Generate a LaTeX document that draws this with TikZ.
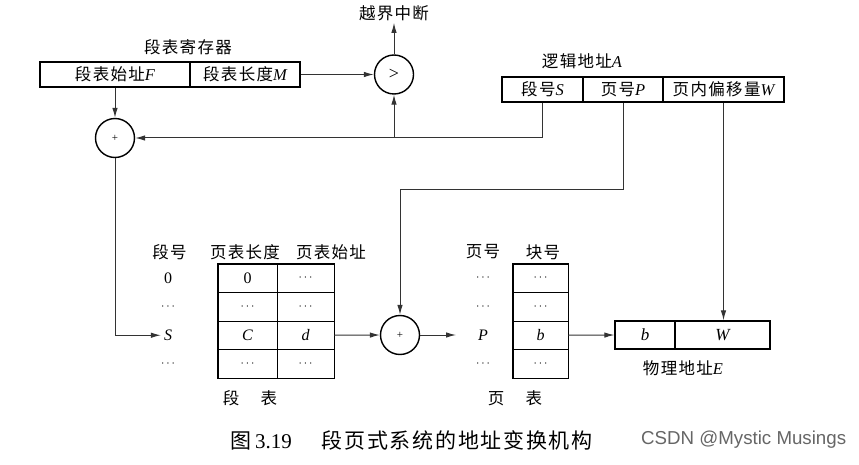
\documentclass[tikz,border=0pt]{standalone}
\usepackage{fontspec}
\setmainfont{Liberation Serif}
\newfontfamily\cjk[LetterSpace=8]{Noto Sans CJK SC}
\newfontfamily\wmfont{Liberation Sans}
\usetikzlibrary{arrows.meta,calc}
\newcommand\ital[1]{{\rmfamily\itshape #1}}
\newcommand\lblfont{\cjk\fontsize{16.5}{20}\selectfont}
\newcommand\dotsc{{\fontsize{12}{14}\selectfont\ensuremath{\cdots}}}
\tikzset{
  lbl/.style={font=\lblfont, inner sep=2pt},
  regc/.style={draw, line width=1.4pt, minimum height=25pt, inner sep=0pt, font=\lblfont},
  cell/.style={draw, line width=0.8pt, minimum height=28.5pt, inner sep=0pt, font=\rmfamily\fontsize{16}{18}\selectfont},
  tframe/.style={draw, line width=1.6pt},
  circ/.style={circle, draw, line width=1.4pt, minimum size=39pt, inner sep=0pt},
  rowl/.style={font=\rmfamily\fontsize{16}{18}\selectfont, inner sep=3pt},
  conn/.style={line width=1pt, draw=black!80},
  arr/.style={conn, -{Latex[length=10pt,width=5.5pt]}},
}
\begin{document}
\begin{tikzpicture}[x=1pt,y=-1pt]
\useasboundingbox (0,0) rectangle (859,465);
\fill[white] (0,0) rectangle (859,465);

% segment table register
\node[lbl] (segT) at (188,47) {段表寄存器};
\node[regc, minimum width=150pt] (segF) at (115,74.5) {段表始址\ital{F}};
\node[regc, minimum width=110pt] (segM) at (245,74.5) {段表长度\ital{M}};

% adders and comparator
\node[circ] (add1) at (115,138) {\fontsize{11}{12}\selectfont +};
\node[circ] (cmp) at (394,74.5) {\fontsize{18}{20}\selectfont >};
\node[lbl] (ovf) at (394,13) {越界中断};
\node[circ] (add2) at (400,335) {\fontsize{11}{12}\selectfont +};

% logical address
\node[lbl] (laT) at (582,61) {逻辑地址\ital{A}};
\node[regc, minimum width=81pt] (la1) at (542.5,89.5) {段号\ital{S}};
\node[regc, minimum width=80pt] (la2) at (623,89.5) {页号\ital{P}};
\node[regc, minimum width=121pt] (la3) at (723.5,89.5) {页内偏移量\ital{W}};

% segment table
\node[lbl] (sh1) at (169.5,252) {段号};
\node[lbl] (sh2) at (245,252) {页表长度};
\node[lbl] (sh3) at (331,252) {页表始址};
\node[rowl] (sl1) at (168,278.25) {0};
\node[rowl] (sl2) at (168,306.75) {\dotsc};
\node[rowl] (sl3) at (168,335.25) {\ital{S}};
\node[rowl] (sl4) at (168,363.75) {\dotsc};
\node[cell, minimum width=59pt] (st11) at (247.5,278.25) {0};
\node[cell, minimum width=57pt] (st12) at (305.5,278.25) {\dotsc};
\node[cell, minimum width=59pt] (st21) at (247.5,306.75) {\dotsc};
\node[cell, minimum width=57pt] (st22) at (305.5,306.75) {\dotsc};
\node[cell, minimum width=59pt] (st31) at (247.5,335.25) {\ital{C}};
\node[cell, minimum width=57pt] (st32) at (305.5,335.25) {\ital{d}};
\node[cell, minimum width=59pt] (st41) at (247.5,363.75) {\dotsc};
\node[cell, minimum width=57pt] (st42) at (305.5,363.75) {\dotsc};
\draw[tframe] (st11.north west) rectangle (st42.south east);
\node[lbl] (stT) at (250,398) {段\hspace{1.3em}表};

% page table
\node[lbl] (ph1) at (483,252) {页号};
\node[lbl] (ph2) at (543,252) {块号};
\node[rowl] (pl1) at (483,278.25) {\dotsc};
\node[rowl] (pl2) at (483,306.75) {\dotsc};
\node[rowl] (pl3) at (483,335.25) {\ital{P}};
\node[rowl] (pl4) at (483,363.75) {\dotsc};
\node[cell, minimum width=55pt] (pt1) at (540.5,278.25) {\dotsc};
\node[cell, minimum width=55pt] (pt2) at (540.5,306.75) {\dotsc};
\node[cell, minimum width=55pt] (pt3) at (540.5,335.25) {\ital{b}};
\node[cell, minimum width=55pt] (pt4) at (540.5,363.75) {\dotsc};
\draw[tframe] (pt1.north west) rectangle (pt4.south east);
\node[lbl] (ptT) at (515,398) {页\hspace{1.3em}表};

% physical address
\node[regc, minimum width=60pt, minimum height=28pt, font=\rmfamily\fontsize{17}{20}\selectfont] (pa1) at (645,335) {\ital{b}};
\node[regc, minimum width=95pt, minimum height=28pt, font=\rmfamily\fontsize{17}{20}\selectfont] (pa2) at (722.5,335) {\ital{W}};
\node[lbl] (paT) at (683,368) {物理地址\ital{E}};

% connectors
\coordinate (pturn) at (400,190);
\coordinate (pend) at (456,335);
\draw[arr] (segF.south) -- (add1.north);
\draw[arr] (segM.east) -- (cmp.west);
\draw[arr] (cmp.north) -- (ovf.south);
\draw[arr] (la1.south) |- (add1.east);
\draw[arr] (cmp.south |- add1.east) -- (cmp.south);
\draw[arr] (la2.south) |- (pturn) -- (add2.north);
\draw[arr] (la3.south) -- (la3.south |- pa2.north);
\draw[arr] (add1.south) |- (sl3.west);
\draw[arr] (st32.east) -- (add2.west);
\draw[arr] (add2.east) -- (pend);
\draw[arr] (pt3.east) -- (pa1.west);

% caption
\node[anchor=west, inner sep=0pt, font=\rmfamily\fontsize{21}{24}\selectfont] (cap) at (230,440)
  {{\cjk 图}\hspace{4pt}3.19\hspace{30pt}{\cjk 段页式系统的地址变换机构}};
\node[anchor=west, inner sep=0pt, font=\wmfont\fontsize{18.7}{22}\selectfont, text=black!60] (csdn) at (641,440)
  {CSDN @Mystic Musings};
\end{tikzpicture}
\end{document}
